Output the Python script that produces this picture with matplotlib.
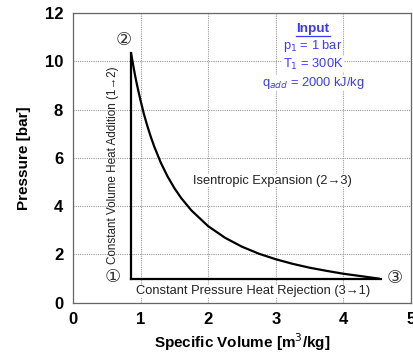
import matplotlib
matplotlib.use("Agg")
import matplotlib.pyplot as plt

plt.rcParams["font.family"] = ["Liberation Sans", "DejaVu Sans"]

# cycle states (v [m3/kg], p [bar])
v_states = [0.861, 0.861, 4.52]
p_states = [1.0, 10.33, 1.0]

# isentropic expansion 2->3
v_exp = [0.861, 0.88, 0.9, 0.92, 0.95, 1.0, 1.05, 1.1, 1.15, 1.2, 1.3, 1.4,
         1.5, 1.6, 1.75, 2.0, 2.25, 2.5, 2.75, 3.0, 3.25, 3.5, 3.75, 4.0,
         4.25, 4.52]
p_exp = [10.33, 10.02, 9.71, 9.41, 9.00, 8.38, 7.82, 7.33, 6.89, 6.49, 5.80,
         5.23, 4.75, 4.34, 3.83, 3.17, 2.69, 2.32, 2.03, 1.80, 1.61, 1.45,
         1.32, 1.20, 1.105, 1.0]

x_ticks = [0, 1, 2, 3, 4, 5]
y_ticks = [0, 2, 4, 6, 8, 10, 12]

fig = plt.figure(figsize=(4.14, 3.52), dpi=100)
ax = fig.add_axes([0.176, 0.140, 0.817, 0.823])

# 1->2 constant volume, 3->1 constant pressure
ax.plot([v_states[0], v_states[1]], [p_states[0], p_states[1]], color="black", lw=1.6, zorder=3)
ax.plot([v_states[2] + 0.03, v_states[0]], [p_states[2], p_states[0]], color="black", lw=1.6, zorder=3)
ax.plot(v_exp, p_exp, color="black", lw=1.6, zorder=3)

ax.set_xlim(0, 5)
ax.set_ylim(0, 12)
ax.set_xticks(x_ticks)
ax.set_yticks(y_ticks)
ax.grid(True, color="#999999", ls=(0, (1, 1)), lw=0.8)
for s in ax.spines.values():
    s.set_color("#666666")
    s.set_linewidth(0.9)
ax.tick_params(length=0, pad=7, labelsize=12)
for lab in ax.get_xticklabels() + ax.get_yticklabels():
    lab.set_fontweight("bold")

ax.set_xlabel("Specific Volume [m$^3$/kg]", fontsize=11, fontweight="bold", labelpad=3)
ax.set_ylabel("Pressure [bar]", fontsize=11, fontweight="bold", labelpad=10)

txt = dict(color="#222222", ha="center", va="center", zorder=4)
ax.text(0.6, 5.7, "Constant Volume Heat Addition (1\u21922)", rotation=90, fontsize=8.4, **txt)
ax.text(2.95, 5.05, "Isentropic Expansion (2\u21923)", fontsize=9.3,
        bbox=dict(fc="white", ec="none", pad=0.5), **txt)
ax.text(2.66, 0.47, "Constant Pressure Heat Rejection (3\u21921)", fontsize=9.3,
        bbox=dict(fc="white", ec="none", pad=0.5), **txt)

circ = dict(fontsize=13, color="#333333", ha="center", va="center",
            family=["DejaVu Sans"], zorder=4)
ax.text(0.59, 1.08, "\u2460", **circ)
ax.text(0.75, 10.9, "\u2461", **circ)
ax.text(4.76, 1.04, "\u2462", **circ)

blue = "#3a3aff"
box = dict(fc="white", ec="none", pad=0.3)
ax.text(3.55, 11.33, "Input", fontsize=9.7, fontweight="bold", color=blue,
        ha="center", va="center", bbox=box, zorder=4)
ax.plot([3.3, 3.8], [11.03, 11.03], color=blue, lw=0.9, zorder=5)
ax.text(3.55, 10.62, "p$_1$ = 1 bar", fontsize=9.3, color=blue, ha="center", va="center", bbox=box, zorder=4)
ax.text(3.55, 9.88, "T$_1$ = 300K", fontsize=9.3, color=blue, ha="center", va="center", bbox=box, zorder=4)
ax.text(3.55, 9.1, "q$_{add}$ = 2000 kJ/kg", fontsize=9.3, color=blue, ha="center", va="center", bbox=box, zorder=4)

fig.savefig("out.png", dpi=100)
